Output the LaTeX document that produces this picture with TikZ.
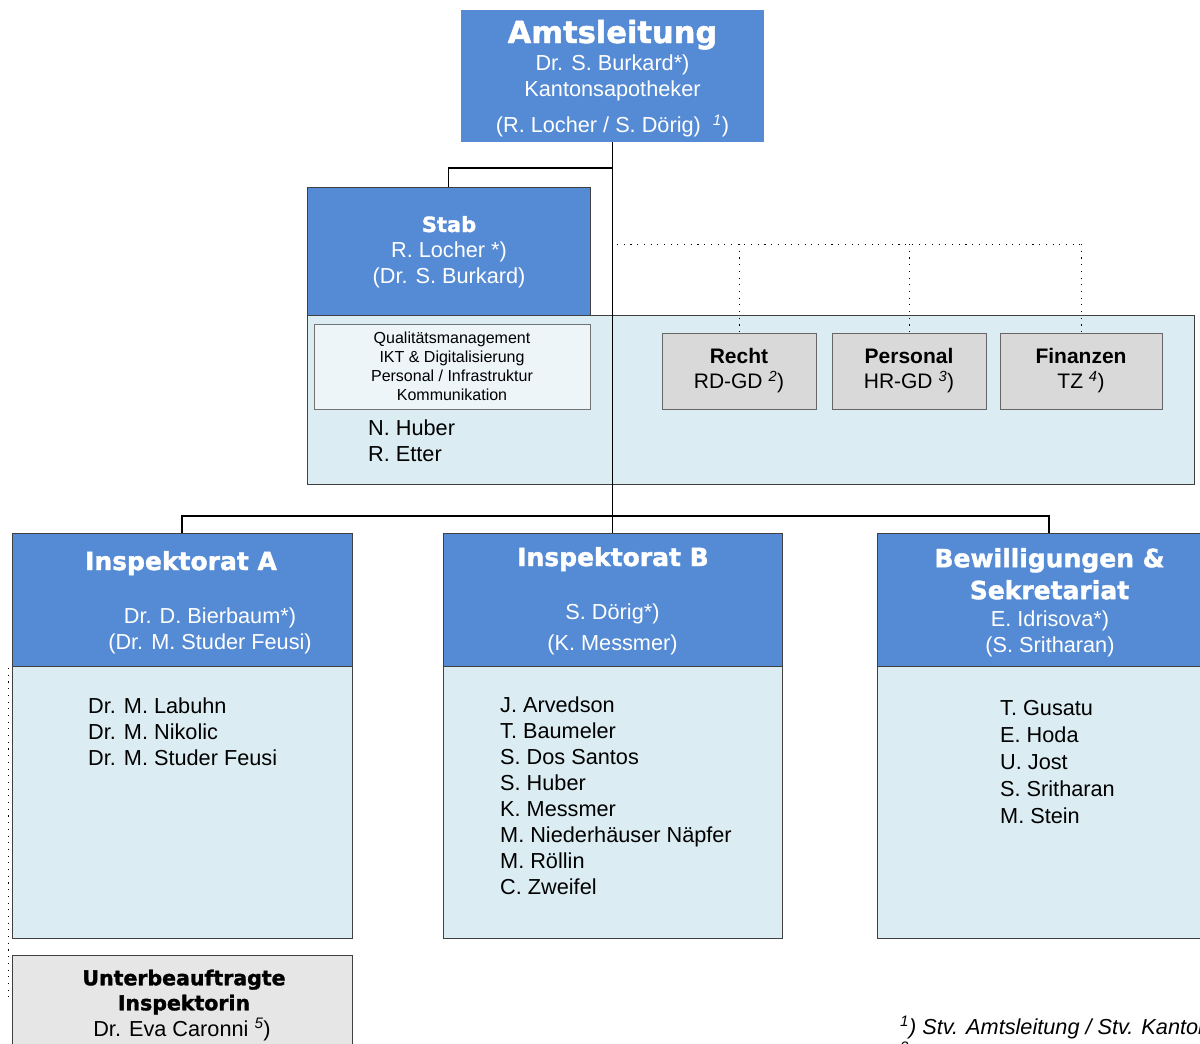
\documentclass[tikz,border=0pt]{standalone}
\usepackage{fontspec}
\setmainfont{Liberation Sans}
\newfontfamily\headfont{DejaVu Sans}[BoldFeatures={FakeBold=1.6}]
\usetikzlibrary{positioning}

\definecolor{hdblue}{RGB}{85,139,213}
\definecolor{bodyblue}{RGB}{219,237,243}
\definecolor{paleblue}{RGB}{238,245,248}
\definecolor{unitgray}{RGB}{217,217,217}
\definecolor{subgray}{RGB}{230,230,230}

\tikzset{
	headbox/.style={rectangle, fill=hdblue, draw=black!75, line width=0.8pt, inner sep=0pt},
	bodybox/.style={rectangle, fill=bodyblue, draw=black!75, line width=0.8pt, inner sep=0pt},
	taskbox/.style={rectangle, fill=paleblue, draw=black!55, line width=0.8pt, inner sep=0pt, align=center,
		font=\fontsize{16}{19}\selectfont},
	unitbox/.style={rectangle, fill=unitgray, draw=black!60, line width=0.8pt, inner sep=0pt, align=center,
		minimum height=76pt, font=\fontsize{21}{25}\selectfont},
	subbox/.style={rectangle, fill=subgray, draw=black!75, line width=0.8pt, inner sep=0pt},
	headtitle/.style={font=\headfont\bfseries\fontsize{25}{32}\selectfont, text=white, inner sep=0pt, align=center},
	headnames/.style={font=\fontsize{21.7}{26}\selectfont, text=white, inner sep=0pt, align=center, anchor=north},
	names/.style={font=\fontsize{21.7}{26}\selectfont, inner sep=0pt, align=left, anchor=north west},
	orgline/.style={line width=1.6pt, black},
	dotline/.style={line width=1pt, dash pattern=on 1.1pt off 5.6pt},
}

\begin{document}
\begin{tikzpicture}[x=1pt, y=-1pt]
	% frame %
	\useasboundingbox (0,0) rectangle (1200,1044);
	\clip (0,0) rectangle (1200,1044);

	% boxes %
	\node[headbox, draw=none, minimum width=303pt, minimum height=132pt] (amt) at (612.5,76) {};
	\node[headbox, minimum width=283pt, minimum height=128pt] (stab) at (448.5,251) {};
	\node[bodybox, minimum width=887pt, minimum height=169pt] (stabbody) at (750.5,399.5) {};
	\node[taskbox, minimum width=276pt, minimum height=85pt] (tasks) at (452,366.5)
		{Qualitätsmanagement\\IKT \& Digitalisierung\\Personal / Infrastruktur\\Kommunikation};
	\node[unitbox, minimum width=154pt] (recht) at (739,371) {\textbf{Recht}\\RD-GD \textsuperscript{\itshape 2})};
	\node[unitbox, minimum width=154pt] (personal) at (909,371) {\textbf{Personal}\\HR-GD \textsuperscript{\itshape 3})};
	\node[unitbox, minimum width=162pt] (finanzen) at (1081,371) {\textbf{Finanzen}\\TZ \textsuperscript{\itshape 4})};

	\node[headbox, minimum width=340pt, minimum height=133pt] (inspA) at (182,599.5) {};
	\node[bodybox, minimum width=340pt, minimum height=272pt] (inspAbody) at (182,802) {};
	\node[headbox, minimum width=339pt, minimum height=133pt] (inspB) at (612.5,599.5) {};
	\node[bodybox, minimum width=339pt, minimum height=272pt] (inspBbody) at (612.5,802) {};
	\node[headbox, minimum width=344pt, minimum height=133pt] (bew) at (1049,599.5) {};
	\node[bodybox, minimum width=344pt, minimum height=272pt] (bewbody) at (1049,802) {};
	\node[subbox, minimum width=340pt, minimum height=120pt] (unter) at (182,1015) {};

	% texts %
	\node[headtitle, font=\headfont\bfseries\fontsize{30.5}{34}\selectfont, anchor=base] (amttitle) at (612.5,43) {Amtsleitung};
	\node[headnames] (amtnames) at (612.5,55) {Dr. S. Burkard*)\\Kantonsapotheker\\[10pt](R. Locher / S. Dörig)\ \ \textsuperscript{\itshape 1})};

	\node[headtitle, font=\headfont\bfseries\fontsize{21}{24}\selectfont, anchor=base] (stabtitle) at (449,232) {Stab};
	\node[headnames] (stabnames) at (449,242) {R. Locher *)\\(Dr. S. Burkard)};
	\node[names] (stabstaff) at (368,420) {N. Huber\\R. Etter};

	\node[headtitle, anchor=base] (inspAtitle) at (181,570) {Inspektorat A};
	\node[headnames] (inspAnames) at (210,608) {Dr. D. Bierbaum*)\\(Dr. M. Studer Feusi)};
	\node[names] (inspAstaff) at (88,698) {Dr. M. Labuhn\\Dr. M. Nikolic\\Dr. M. Studer Feusi};

	\node[headtitle, anchor=base] (inspBtitle) at (613,566) {Inspektorat B};
	\node[headnames] (inspBnames) at (612.5,604) {S. Dörig*)\\[5pt](K. Messmer)};
	\node[names] (inspBstaff) at (500,697) {J. Arvedson\\T. Baumeler\\S. Dos Santos\\S. Huber\\K. Messmer\\M. Niederhäuser Näpfer\\M. Röllin\\C. Zweifel};

	\node[headtitle, anchor=north] (bewtitle) at (1049.5,548) {Bewilligungen \&\\Sekretariat};
	\node[headnames] (bewnames) at (1050,611) {E. Idrisova*)\\(S. Sritharan)};
	\node[names, font=\fontsize{21.7}{27}\selectfont] (bewstaff) at (1000,700) {T. Gusatu\\E. Hoda\\U. Jost\\S. Sritharan\\M. Stein};

	\node[headtitle, text=black, font=\headfont\bfseries\fontsize{20.5}{25}\selectfont, anchor=north] (untertitle) at (184,969.5) {Unterbeauftragte\\Inspektorin};
	\node[names, anchor=base] (unternames) at (182,1036.5) {Dr. Eva Caronni \textsuperscript{\itshape 5})};

	\node[names, font=\itshape\fontsize{21.7}{26}\selectfont, anchor=base west] (note1) at (900,1034) {\textsuperscript{1}) Stv. Amtsleitung / Stv. Kantonsapotheker};
	\node[names, font=\itshape\fontsize{21.7}{26}\selectfont, anchor=base west] (note2) at (900,1060) {\textsuperscript{2})};

	% edges %
	\coordinate (stabjoin) at (612.5,168);
	\coordinate (bus) at (612.5,516);
	\draw[orgline] (amt.south) -- (bus);
	\draw[orgline] (stab.north) |- (stabjoin);
	\draw[orgline] (inspA.north) |- (bus) -| (bew.north);
	\draw[orgline] (bus) -- (inspB.north);

	\coordinate (dotstart) at (617,244);
	\coordinate (dotend) at (1081,244);
	\draw[dotline] (dotstart) -- (dotend);
	\draw[dotline] (recht.north |- dotstart) -- (recht.north);
	\draw[dotline] (personal.north |- dotstart) -- (personal.north);
	\draw[dotline] (dotend) -- (finanzen.north);

	\coordinate (sidetop) at (8,668);
	\coordinate (sidebottom) at (8,1000);
	\draw[dotline] (sidetop) -- (sidebottom);
\end{tikzpicture}
\end{document}
